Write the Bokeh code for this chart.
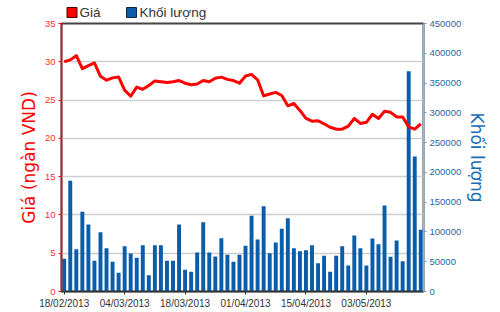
from bokeh.plotting import figure
from bokeh.layouts import column
from bokeh.models import (Range1d, LinearAxis, FixedTicker, NumeralTickFormatter,
                          ColumnDataSource)
from bokeh.core.properties import value
from bokeh.embed import file_html
from bokeh.resources import INLINE

# ---- data ----
tick_dates = ["18/02/2013", "04/03/2013", "18/03/2013", "01/04/2013", "15/04/2013", "03/05/2013"]
tick_index = [0, 10, 20, 30, 40, 50]

price = [30.0, 30.25, 30.8, 29.1, 29.5, 29.85, 28.1, 27.6, 27.9, 28.0,
         26.3, 25.5, 26.7, 26.4, 26.9, 27.5, 27.4, 27.3, 27.4, 27.55,
         27.2, 27.0, 27.1, 27.55, 27.4, 27.85, 28.0, 27.7, 27.55, 27.2,
         28.15, 28.35, 27.65, 25.55, 25.8, 26.0, 25.6, 24.25, 24.55, 23.65,
         22.6, 22.25, 22.3, 21.9, 21.45, 21.2, 21.2, 21.6, 22.6, 21.95,
         22.1, 23.15, 22.6, 23.55, 23.4, 22.8, 22.8, 21.5, 21.2, 21.9]

volume = [55000, 186000, 71000, 134000, 112500, 51500, 99600, 72700, 49800, 31400,
          76100, 63800, 56500, 77800, 27400, 77800, 77800, 51500, 51500, 112500,
          36400, 33000, 65500, 116400, 65500, 58800, 89500, 61600, 49800, 61600,
          76700, 127100, 87300, 143300, 64300, 82300, 105300, 123100, 72700, 67700,
          69400, 77800, 47600, 59900, 33000, 59900, 76100, 43700, 94000, 72700,
          43700, 89000, 79400, 144400, 58300, 85600, 50900, 370000, 226700, 103600]

series_names = ["Giá", "Khối lượng"]

idx = list(range(len(price)))
src = ColumnDataSource(dict(x=idx, price=price, vol=volume))

RED = "#ff0000"
BLUE = "#0b5ca9"
FR_L, FR_R = 61, 423   # frame edges in pixels (shared by both strips)

# ---- legend strip (pixel-like coordinates, frame aligned with the chart) ----
LEG_H = 20
leg = figure(width=500, height=LEG_H, output_backend="svg", toolbar_location=None,
             x_range=Range1d(FR_L, FR_R), y_range=Range1d(LEG_H, 0),
             x_axis_location=None, y_axis_location=None,
             min_border_left=FR_L, min_border_right=500 - FR_R,
             min_border_top=0, min_border_bottom=0, outline_line_color=None)
leg.grid.visible = False
leg.rect(x=[71.5, 131], y=[12, 12], width=10, height=10,
         fill_color=[RED, BLUE], line_color=["#550000", "#0a2a4a"], line_width=1)
leg.text(x=[79, 139], y=[12, 12], text=series_names,
         text_font=value("Liberation Sans"), text_font_size="13.5px",
         text_color="#333333", text_baseline="middle", text_align="left")

# ---- main chart ----
p = figure(width=500, height=312 - LEG_H, output_backend="svg", toolbar_location=None,
           x_range=Range1d(-0.45, 59.45), y_range=Range1d(0, 35),
           min_border_left=FR_L, min_border_right=500 - FR_R, min_border_top=23 - LEG_H,
           min_border_bottom=21)
p.extra_y_ranges = {"vol": Range1d(0, 450000)}
p.outline_line_color = "#444444"
p.outline_line_width = 2

p.vbar(x="x", top="vol", width=0.65, source=src, y_range_name="vol",
       fill_color=BLUE, line_color=None)
p.line(x="x", y="price", source=src, line_color=RED, line_width=3, line_join="round")

# axes
p.xaxis.ticker = FixedTicker(ticks=tick_index)
p.xaxis.major_label_overrides = {i: d for i, d in zip(tick_index, tick_dates)}
p.xaxis.major_label_text_font = "Liberation Sans"
p.xaxis.major_label_text_font_size = "10px"
p.xaxis.major_label_text_color = "#333333"
p.xaxis.axis_line_color = "#333333"
p.xaxis.axis_line_width = 1.5
p.xaxis.major_tick_line_color = "#333333"
p.xaxis.major_tick_out = 3
p.xaxis.major_tick_in = 0
p.xaxis.minor_tick_line_color = None
p.xaxis.major_label_standoff = 3
p.xgrid.grid_line_color = None

p.yaxis.ticker = FixedTicker(ticks=[0, 5, 10, 15, 20, 25, 30, 35])
p.yaxis.axis_label = "Giá (ngàn VND)"
p.yaxis.axis_label_text_font = "DejaVu Sans"
p.yaxis.axis_label_text_font_size = "17px"
p.yaxis.axis_label_text_font_style = "normal"
p.yaxis.axis_label_text_color = RED
p.yaxis.axis_label_standoff = 3
p.yaxis.axis_line_color = RED
p.yaxis.axis_line_width = 1.5
p.yaxis.major_tick_line_color = RED
p.yaxis.major_tick_out = 3
p.yaxis.major_tick_in = 0
p.yaxis.minor_tick_line_color = None
p.yaxis.major_label_text_color = "#ff3030"
p.yaxis.major_label_text_font = "Liberation Sans"
p.yaxis.major_label_text_font_size = "9.5px"
p.yaxis.major_label_standoff = 3
p.ygrid.ticker = FixedTicker(ticks=[5, 10, 15, 20, 25, 30])
p.ygrid.grid_line_color = "#cfcfcf"
p.ygrid.grid_line_width = 1.5

ax2 = LinearAxis(y_range_name="vol",
                 ticker=FixedTicker(ticks=[0, 50000, 100000, 150000, 200000, 250000,
                                           300000, 350000, 400000, 450000]),
                 formatter=NumeralTickFormatter(format="0"))
ax2.axis_label = "Khối lượng"
ax2.axis_label_text_font = "DejaVu Sans"
ax2.axis_label_text_font_size = "17px"
ax2.axis_label_text_font_style = "normal"
ax2.axis_label_text_color = "#1a6db0"
ax2.axis_label_standoff = 3
ax2.axis_line_color = "#8ab8dc"
ax2.axis_line_width = 1.5
ax2.major_tick_line_color = "#6a9ccc"
ax2.major_tick_out = 3
ax2.major_tick_in = 0
ax2.minor_tick_line_color = None
ax2.major_label_text_color = "#2468a8"
ax2.major_label_text_font = "Liberation Sans"
ax2.major_label_text_font_size = "9.5px"
ax2.major_label_standoff = 3
p.add_layout(ax2, "right")

layout = column(leg, p, spacing=0)
open("out.html", "w").write(file_html(layout, INLINE))
